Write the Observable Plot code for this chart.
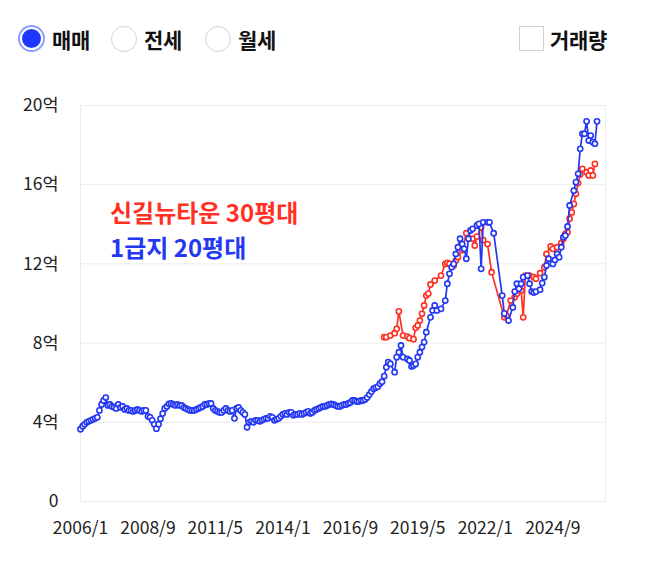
<!DOCTYPE html>
<html><head><meta charset="utf-8">
<script src="https://cdn.jsdelivr.net/npm/d3@7"></script>
<script src="https://cdn.jsdelivr.net/npm/@observablehq/plot@0.6"></script>
<style>
body{margin:0;background:#fff;font-family:"Noto Sans CJK KR","Noto Sans",sans-serif;}
#wrap{position:relative;width:646px;height:568px;overflow:hidden;}
.lbl{position:absolute;top:24px;font-size:21px;font-weight:700;color:#111;line-height:30px;letter-spacing:-0.3px;}
.radio{position:absolute;top:26px;width:26px;height:26px;border-radius:50%;border:1.5px solid #cfd3de;box-sizing:border-box;background:#fff;}
.radio.on{background:#1f38ff;border:2px solid #fff;box-shadow:0 0 0 2px #8d9cff;width:23px;height:23px;top:27px;}
.check{position:absolute;top:26px;left:519px;width:25px;height:25px;border:1.5px solid #cfd1d8;box-sizing:border-box;}
.note{position:absolute;left:110px;font-size:24px;font-weight:700;letter-spacing:0px;line-height:28px;}
#chart{position:absolute;left:0;top:80px;}
</style></head>
<body><div id="wrap">
<div class="radio on" style="left:20px"></div><div class="lbl" style="left:52px">매매</div>
<div class="radio" style="left:111px"></div><div class="lbl" style="left:144px">전세</div>
<div class="radio" style="left:205px"></div><div class="lbl" style="left:238px">월세</div>
<div class="check"></div><div class="lbl" style="left:550px">거래량</div>
<div id="chart"></div>
<div class="note" style="top:198px;color:#ff3124">신길뉴타운 30평대</div>
<div class="note" style="top:233px;color:#2438f2">1급지 20평대</div>
</div>
<script>
// 1급지 20평대 (blue), monthly from 2006-01, unit: 억
const blueStart = [2006, 0];
const blueValues = [
  3.65, 3.8, 3.9, 4.0, 4.05, 4.1, 4.15, 4.2, 4.25, 4.6, 4.9, 5.1,
  5.25, 4.85, 4.9, 4.8, 4.76, 4.7, 4.9, 4.75, 4.8, 4.65, 4.7, 4.6,
  4.6, 4.55, 4.6, 4.65, 4.6, 4.55, 4.6, 4.6, 4.3, 4.25, 4.1, 3.9,
  3.68, 3.9, 4.18, 4.44, 4.7, 4.8, 4.93, 4.95, 4.9, 4.85, 4.9, 4.85,
  4.85, 4.75, 4.7, 4.65, 4.6, 4.6, 4.6, 4.65, 4.7, 4.75, 4.8, 4.9,
  4.9, 4.95, 4.95, 4.7, 4.6, 4.55, 4.5, 4.5, 4.6, 4.7, 4.6, 4.55,
  4.6, 4.2, 4.7, 4.75, 4.6, 4.5, 4.4, 3.75, 4.0, 4.05, 4.0, 4.1,
  4.1, 4.05, 4.1, 4.15, 4.2, 4.2, 4.3, 4.25, 4.1, 4.15, 4.2, 4.3,
  4.4, 4.45, 4.4, 4.5, 4.5, 4.35, 4.4, 4.4, 4.45, 4.4, 4.45, 4.5,
  4.55, 4.45, 4.5, 4.6, 4.65, 4.7, 4.75, 4.8, 4.8, 4.85, 4.9, 4.93,
  4.9, 4.85, 4.8, 4.8, 4.85, 4.9, 4.9, 4.95, 5.0, 5.1, 5.1, 5.05,
  5.05, 5.1, 5.1, 5.15, 5.25, 5.4, 5.55, 5.7, 5.75, 5.8, 5.95, 6.05,
  6.33, 6.78, 7.04, 6.95, null, 6.53, 7.29, 7.54, 7.88, 7.29, null, 7.2,
  7.12, 6.82, 6.87, 6.95, 7.29, 7.54, 7.8, 8.05, 8.55, null, 9.3, 9.65,
  9.9, 9.65, null, 9.73, null, 10.15, 11.0, 11.5, 11.83, 12.0, 12.5, 12.84,
  13.27, 13.0, 12.76, 12.26, 13.27, 13.69, 13.77, null, 13.94, 14.02, 11.75, 14.1,
  null, 14.1, 14.1, null, 13.55, null, null, null, 10.4, 9.5, null, 9.14,
  null, 9.8, 10.6, 11.0, 10.74, 11.0, 11.33, null, 11.41, 11.0, 10.6, 10.55,
  10.6, null, 10.7, 11.03, 11.33, 11.92, 12.26, null, 12.0, 12.2, 12.5, 12.34,
  12.84, 13.35, 13.43, 13.89, 14.95, null, 15.7, 16.13, 16.55, 17.81, 18.57, 18.57,
  19.2, 18.23, 18.48, 18.15, 18.07, 19.2
];
// 신길뉴타운 30평대 (red), monthly from 2018-01
const redStart = [2018, 0];
const redValues = [
  8.3, 8.3, null, 8.38, null, 8.5, 8.72, 9.6, null, 8.38, null, 8.33,
  8.25, null, 8.2, 8.77, 8.89, 9.14, 9.48, 9.9, 10.4, 10.5, 10.96, null,
  11.16, null, null, 11.41, null, 12.0, 12.05, 12.0, null, 11.92, 12.17, 12.34,
  null, 12.7, null, 13.55, null, null, 13.27, 12.93, 13.38, null, 13.85, 13.2,
  null, 13.0, null, 11.58, null, null, null, null, null, 9.3, 9.39, null,
  10.15, null, 10.32, 10.49, null, 10.66, 9.3, 11.41, null, 11.41, null, 11.33,
  11.25, null, 11.53, null, 11.83, 12.5, null, 12.88, 12.76, null, 12.84, null,
  13.05, 13.27, 13.52, 13.6, 14.28, 14.6, 15.03, 15.54, 16.08, 16.52, 16.8, null,
  16.63, 16.47, 16.72, 16.47, 17.05
];
const xTickLabels = ["2006/1", "2008/9", "2011/5", "2014/1", "2016/9", "2019/5", "2022/1", "2024/9"];
const yTicks = [0, 4, 8, 12, 16, 20];
const xDomain = ["2006/1", "2026/10"];

const red = "#ff3124", blue = "#2438f2";
const parseYM = s => { const [y, m] = s.split("/").map(Number); return new Date(Date.UTC(y, m - 1, 1)); };
const toSeries = (start, vals) => vals.map((v, i) => ({date: new Date(Date.UTC(start[0], start[1] + i, 1)), value: v})).filter(d => d.value != null);
const blueData = toSeries(blueStart, blueValues);
const redData = toSeries(redStart, redValues);
const tickDates = xTickLabels.map(parseYM);
const fmt = d => `${d.getUTCFullYear()}/${d.getUTCMonth() + 1}`;

const chart = Plot.plot({
  width: 646, height: 480,
  marginLeft: 80, marginRight: 41, marginTop: 25, marginBottom: 59,
  style: {fontFamily: '"Noto Sans CJK KR","Noto Sans",sans-serif', fontSize: "17px", color: "#222", background: "#fff"},
  x: {type: "utc", domain: xDomain.map(parseYM), label: null},
  y: {domain: [0, 20], label: null},
  marks: [
    Plot.gridY(yTicks, {stroke: "#ececec", strokeOpacity: 1, strokeWidth: 1}),
    Plot.frame({stroke: "#ececec", strokeWidth: 1}),
    Plot.axisY({ticks: yTicks, tickSize: 0, tickPadding: 22, tickFormat: d => d === 0 ? "0" : d + "억", fontSize: 17.5, fill: "#222", label: null}),
    Plot.axisX({ticks: tickDates, tickSize: 0, tickPadding: 20, tickFormat: fmt, fontSize: 17.5, fill: "#222", label: null}),
    Plot.line(redData, {x: "date", y: "value", stroke: red, strokeWidth: 1.7}),
    Plot.dot(redData, {x: "date", y: "value", r: 2.6, stroke: red, strokeWidth: 1.6, fill: "#fff"}),
    Plot.line(blueData, {x: "date", y: "value", stroke: blue, strokeWidth: 1.7}),
    Plot.dot(blueData, {x: "date", y: "value", r: 2.6, stroke: blue, strokeWidth: 1.6, fill: "#fff"})
  ]
});
document.getElementById("chart").appendChild(chart);
</script>
</body></html>
